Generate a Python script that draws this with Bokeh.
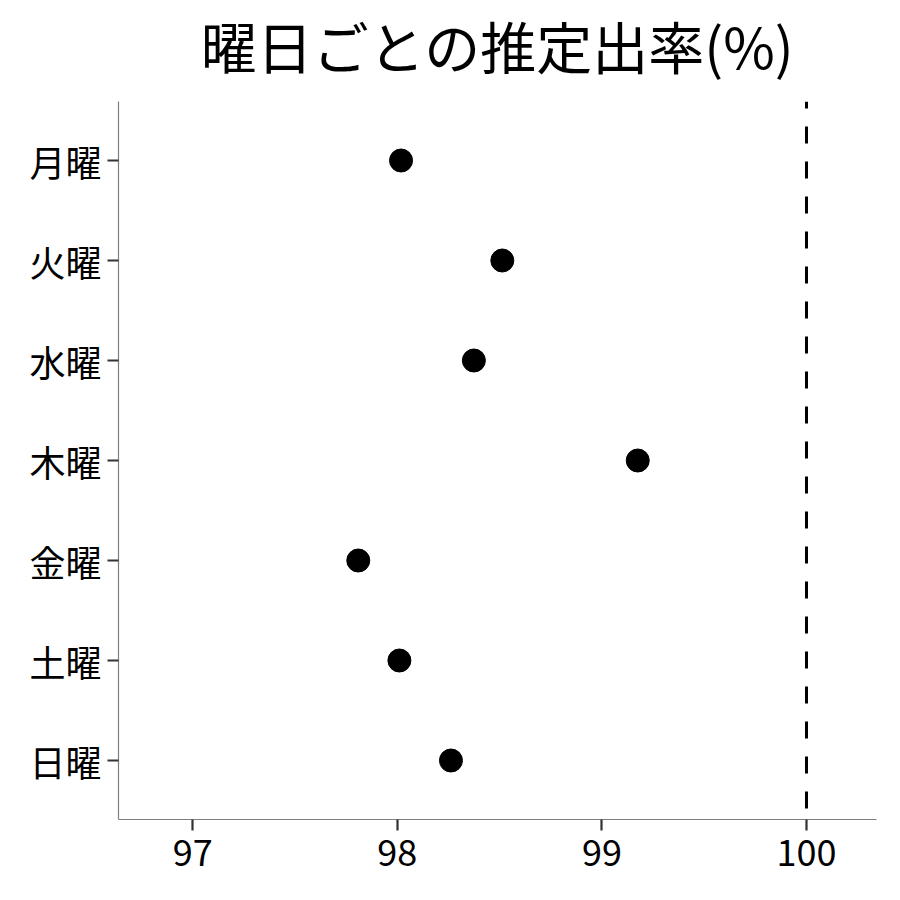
from bokeh.plotting import figure
from bokeh.models import FactorRange, Range1d, Span, FixedTicker
from bokeh.embed import file_html
from bokeh.resources import INLINE

# ---- data ----
days = ["月曜", "火曜", "水曜", "木曜", "金曜", "土曜", "日曜"]
rates = [98.018, 98.513, 98.374, 99.175, 97.809, 98.010, 98.262]
x_ticks = [97, 98, 99, 100]
reference_line = 100
title_text = "曜日ごとの推定出率(%)"

FONT = "Noto Sans CJK JP"

p = figure(
    y_range=FactorRange(factors=days[::-1], range_padding=0.09,
                        range_padding_units="absolute"),
    x_range=Range1d(96.637, 100.342),
    frame_width=758, frame_height=718,
    min_border_left=118, min_border_top=117, min_border_right=8,
    min_border_bottom=65,
    output_backend="svg", toolbar_location=None,
    title=title_text,
)
p.margin = (-16, 0, 0, 0)

p.scatter(x=rates, y=days, size=23, color="black")

span = Span(location=reference_line, dimension="height", line_color="black",
            line_width=3, line_dash="17 18", line_dash_offset=10)
p.add_layout(span)

p.xgrid.visible = False
p.ygrid.visible = False
p.outline_line_color = None
p.background_fill_color = "white"
p.border_fill_color = "white"

p.xaxis.ticker = FixedTicker(ticks=x_ticks)
for ax in (p.xaxis[0], p.yaxis[0]):
    ax.axis_line_color = "#7f7f7f"
    ax.axis_line_width = 1.2
    ax.major_tick_line_color = "#333333"
    ax.major_tick_line_width = 2.2
    ax.major_tick_out = 11
    ax.major_tick_in = 0
    ax.minor_tick_line_color = None
    ax.major_label_text_font = FONT
    ax.major_label_text_font_size = "36px"
    ax.major_label_text_color = "black"
p.xaxis.major_label_standoff = 9
p.yaxis.major_label_standoff = 6

p.title.text_font = FONT
p.title.text_font_size = "56px"
p.title.text_font_style = "normal"
p.title.text_color = "black"
p.title.align = "center"
p.title.standoff = 34

open("out.html", "w").write(file_html(p, INLINE))
